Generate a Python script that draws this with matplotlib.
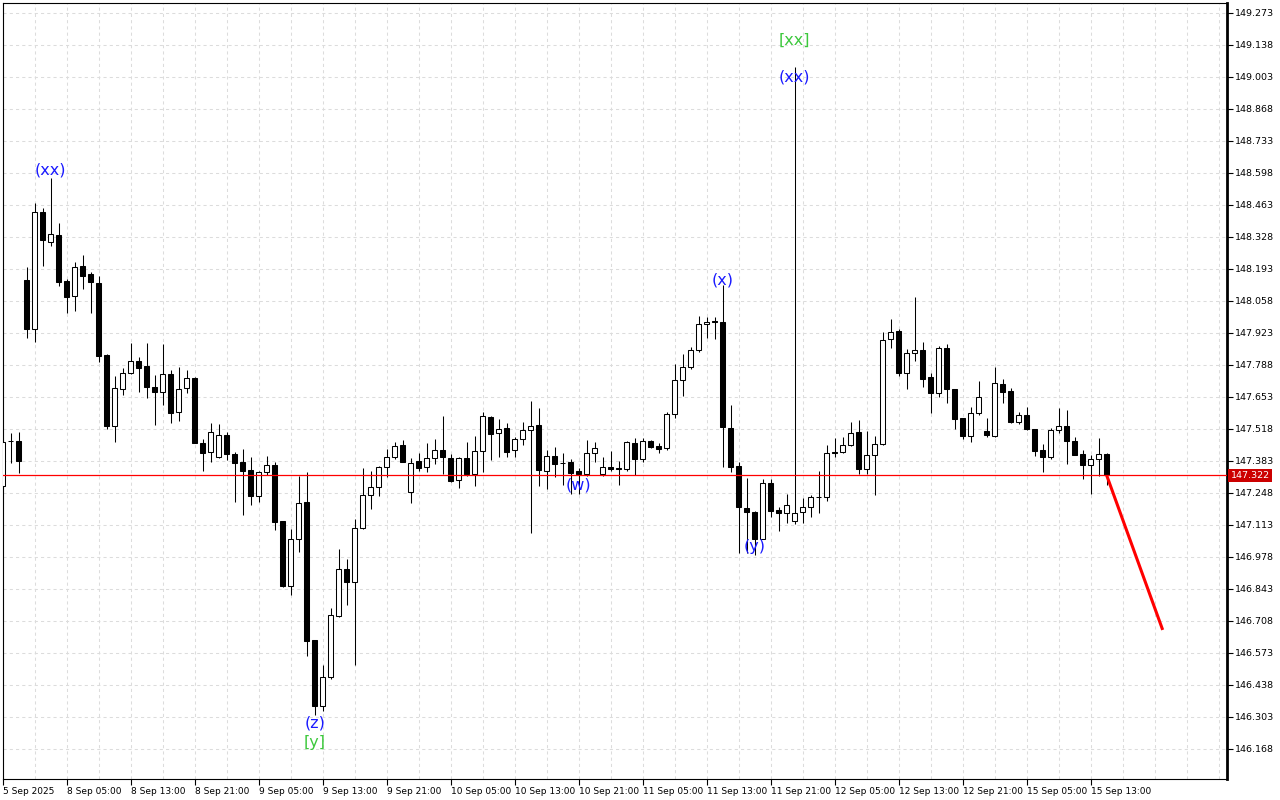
import numpy as np
import matplotlib.pyplot as plt
from matplotlib.transforms import blended_transform_factory

# ---- H1 candles ----
opens = [147.277, 147.467, 147.467, 148.147, 147.941, 148.432, 148.306, 148.335, 148.142, 148.080,
         148.204, 148.172, 148.133, 147.829, 147.532, 147.685, 147.753, 147.804, 147.782, 147.694,
         147.675, 147.749, 147.588, 147.690, 147.732, 147.458, 147.420, 147.399, 147.491, 147.411,
         147.378, 147.344, 147.237, 147.335, 147.365, 147.128, 146.854, 147.053, 147.209, 146.627,
         146.351, 146.473, 146.730, 146.926, 146.874, 147.099, 147.238, 147.272, 147.356, 147.399,
         147.449, 147.251, 147.382, 147.356, 147.394, 147.428, 147.394, 147.302, 147.394, 147.327,
         147.424, 147.569, 147.500, 147.521, 147.428, 147.474, 147.512, 147.535, 147.340, 147.403,
         147.376, 147.378, 147.340, 147.327, 147.415, 147.327, 147.356, 147.352, 147.350, 147.458,
         147.390, 147.466, 147.445, 147.437, 147.580, 147.723, 147.778, 147.850, 147.960, 147.972,
         147.968, 147.521, 147.361, 147.186, 147.169, 147.055, 147.289, 147.176, 147.165, 147.128,
         147.166, 147.188, 147.229, 147.230, 147.419, 147.420, 147.449, 147.504, 147.348, 147.407,
         147.456, 147.898, 147.930, 147.753, 147.837, 147.850, 147.736, 147.669, 147.858, 147.685,
         147.563, 147.487, 147.584, 147.508, 147.488, 147.707, 147.677, 147.549, 147.576, 147.517,
         147.429, 147.401, 147.512, 147.529, 147.469, 147.411, 147.367, 147.393, 147.414]
highs = [147.472, 147.502, 147.504, 148.200, 148.471, 148.449, 148.576, 148.386, 148.151, 148.221,
         148.251, 148.179, 148.163, 147.834, 147.742, 147.774, 147.881, 147.820, 147.881, 147.745,
         147.877, 147.766, 147.778, 147.766, 147.735, 147.474, 147.542, 147.538, 147.504, 147.420,
         147.432, 147.399, 147.342, 147.403, 147.378, 147.131, 147.095, 147.318, 147.335, 146.628,
         146.521, 146.764, 147.012, 146.968, 147.137, 147.352, 147.340, 147.361, 147.432, 147.462,
         147.470, 147.394, 147.415, 147.458, 147.474, 147.573, 147.411, 147.401, 147.462, 147.487,
         147.588, 147.574, 147.559, 147.542, 147.483, 147.546, 147.636, 147.605, 147.428, 147.441,
         147.418, 147.390, 147.352, 147.470, 147.462, 147.399, 147.424, 147.382, 147.466, 147.479,
         147.479, 147.472, 147.458, 147.588, 147.791, 147.833, 147.863, 147.993, 147.989, 147.989,
         148.125, 147.618, 147.378, 147.310, 147.173, 147.306, 147.306, 147.190, 147.243, 149.046,
         147.228, 147.238, 147.340, 147.452, 147.479, 147.483, 147.546, 147.556, 147.508, 147.487,
         147.926, 147.981, 147.939, 147.854, 148.075, 147.884, 147.753, 147.867, 147.875, 147.687,
         147.565, 147.610, 147.720, 147.563, 147.778, 147.728, 147.690, 147.588, 147.610, 147.519,
         147.455, 147.521, 147.605, 147.597, 147.486, 147.428, 147.410, 147.480, 147.418]
lows = [147.269, 147.373, 147.334, 147.903, 147.886, 148.206, 148.291, 148.122, 148.006, 148.017,
        148.109, 148.006, 147.802, 147.517, 147.464, 147.663, 147.749, 147.675, 147.650, 147.536,
        147.620, 147.545, 147.553, 147.671, 147.457, 147.342, 147.380, 147.394, 147.386, 147.211,
        147.156, 147.199, 147.211, 147.323, 147.093, 146.849, 146.819, 147.000, 146.562, 146.311,
        146.330, 146.465, 146.726, 146.777, 146.524, 147.097, 147.182, 147.237, 147.314, 147.390,
        147.378, 147.207, 147.342, 147.338, 147.369, 147.328, 147.296, 147.270, 147.321, 147.279,
        147.335, 147.388, 147.399, 147.399, 147.399, 147.449, 147.078, 147.277, 147.266, 147.317,
        147.283, 147.245, 147.245, 147.321, 147.380, 147.321, 147.342, 147.280, 147.342, 147.323,
        147.378, 147.437, 147.415, 147.429, 147.563, 147.656, 147.770, 147.842, 147.901, 147.899,
        147.359, 147.335, 146.994, 146.994, 146.986, 147.052, 147.148, 147.089, 147.120, 147.116,
        147.120, 147.148, 147.165, 147.213, 147.401, 147.418, 147.447, 147.329, 147.329, 147.241,
        147.452, 147.858, 147.740, 147.685, 147.806, 147.696, 147.587, 147.654, 147.629, 147.517,
        147.474, 147.464, 147.576, 147.486, 147.486, 147.626, 147.545, 147.538, 147.512, 147.405,
        147.338, 147.393, 147.500, 147.372, 147.410, 147.308, 147.245, 147.321, 147.283]
closes = [147.464, 147.466, 147.384, 147.941, 148.432, 148.317, 148.339, 148.139, 148.076, 148.200,
          148.165, 148.137, 147.827, 147.532, 147.690, 147.753, 147.804, 147.777, 147.696, 147.675,
          147.749, 147.587, 147.685, 147.732, 147.460, 147.418, 147.507, 147.491, 147.411, 147.373,
          147.342, 147.237, 147.335, 147.365, 147.127, 146.857, 147.053, 147.205, 146.625, 146.351,
          146.470, 146.732, 146.926, 146.874, 147.099, 147.238, 147.272, 147.356, 147.399, 147.445,
          147.380, 147.373, 147.355, 147.394, 147.428, 147.399, 147.300, 147.394, 147.327, 147.424,
          147.573, 147.498, 147.517, 147.422, 147.474, 147.512, 147.529, 147.346, 147.403, 147.372,
          147.373, 147.334, 147.329, 147.415, 147.437, 147.356, 147.348, 147.348, 147.462, 147.390,
          147.466, 147.443, 147.432, 147.580, 147.723, 147.778, 147.850, 147.960, 147.968, 147.968,
          147.528, 147.359, 147.190, 147.169, 147.055, 147.289, 147.173, 147.165, 147.199, 147.165,
          147.187, 147.230, 147.231, 147.415, 147.415, 147.449, 147.500, 147.348, 147.407, 147.453,
          147.895, 147.926, 147.753, 147.837, 147.850, 147.728, 147.669, 147.858, 147.685, 147.561,
          147.487, 147.584, 147.652, 147.494, 147.711, 147.673, 147.549, 147.576, 147.517, 147.426,
          147.401, 147.512, 147.529, 147.469, 147.410, 147.367, 147.393, 147.414, 147.322]

time_labels = ['5 Sep 2025', '8 Sep 05:00', '8 Sep 13:00', '8 Sep 21:00', '9 Sep 05:00',
               '9 Sep 13:00', '9 Sep 21:00', '10 Sep 05:00', '10 Sep 13:00', '10 Sep 21:00',
               '11 Sep 05:00', '11 Sep 13:00', '11 Sep 21:00', '12 Sep 05:00', '12 Sep 13:00',
               '12 Sep 21:00', '15 Sep 05:00', '15 Sep 13:00']
price_ticks = [146.168, 146.303, 146.438, 146.573, 146.708, 146.843, 146.978, 147.113,
               147.248, 147.383, 147.518, 147.653, 147.788, 147.923, 148.058, 148.193,
               148.328, 148.463, 148.598, 148.733, 148.868, 149.003, 149.138, 149.273]

current_price = 147.322
forecast_bars = [138, 145]
forecast_prices = [147.322, 146.670]

# wave marks
wave_labels = ['(xx)', '(xx)', '[xx]', '(x)', '(w)', '(y)', '(z)', '[y]']
wave_bars = [6, 99, 99, 90, 72, 94, 39, 39]
wave_prices = [148.611, 149.003, 149.159, 148.147, 147.282, 147.024, 146.278, 146.193]
wave_colors = ['#1a1aff', '#1a1aff', '#3cc83c', '#1a1aff', '#1a1aff', '#1a1aff', '#1a1aff', '#3cc83c']

# ---- figure ----
fig = plt.figure(figsize=(12.8, 8), dpi=100, facecolor='white')
ax = fig.add_axes([2.5 / 1280, 21 / 800, 1224.5 / 1280, 776 / 800])
ax.set_facecolor('white')

x = np.arange(len(opens))
o = np.array(opens)
c = np.array(closes)

# grid
grid_style = dict(color='#dcdcdc', lw=0.75, ls=(0, (3, 3)), zorder=1)
for p in price_ticks:
    ax.axhline(p, **grid_style)
for g in range(0, 154, 4):
    ax.axvline(g, **grid_style)

# candles
ax.vlines(x, lows, highs, color='black', lw=0.75, zorder=3)
body_col = ['black' if cc < oo else 'white' for oo, cc in zip(o, c)]
ax.bar(x, np.abs(c - o), bottom=np.minimum(o, c), width=0.6, color=body_col,
       edgecolor='black', linewidth=0.75, zorder=4)

# current price line and forecast
ax.axhline(current_price, color='#ff0000', lw=0.9, zorder=5)
ax.plot(forecast_bars, forecast_prices, color='red', lw=2.2, zorder=6, solid_capstyle='butt')

for lab, b, p, col in zip(wave_labels, wave_bars, wave_prices, wave_colors):
    ax.text(b, p, lab, color=col, fontsize=11.5, ha='center', va='center', zorder=7)

ax.set_xlim(-0.03, 153.04)
ax.set_ylim(146.041, 149.315)

# axes styling
ax.yaxis.tick_right()
ax.set_yticks(price_ticks)
ax.set_yticklabels([f'{p:.3f}' for p in price_ticks])
ax.tick_params(axis='y', length=4, width=0.8, pad=2, labelsize=6.8, direction='out')
ax.set_xticks(range(0, 137, 8))
ax.set_xticklabels(time_labels, ha='left')
ax.tick_params(axis='x', length=4, width=0.8, pad=2, labelsize=6.5, direction='out')
for s in ax.spines.values():
    s.set_color('black')
    s.set_linewidth(0.8)
ax.spines['right'].set_linewidth(2.0)

tr = blended_transform_factory(ax.transAxes, ax.transData)
ax.text(1.003, current_price, f'{current_price:.3f}', transform=tr, ha='left', va='center',
        color='white', fontsize=6.8, clip_on=False, zorder=8,
        bbox=dict(facecolor='#cc0000', edgecolor='none', boxstyle='square,pad=0.25'))

fig.savefig('out.png', dpi=100, facecolor='white')
